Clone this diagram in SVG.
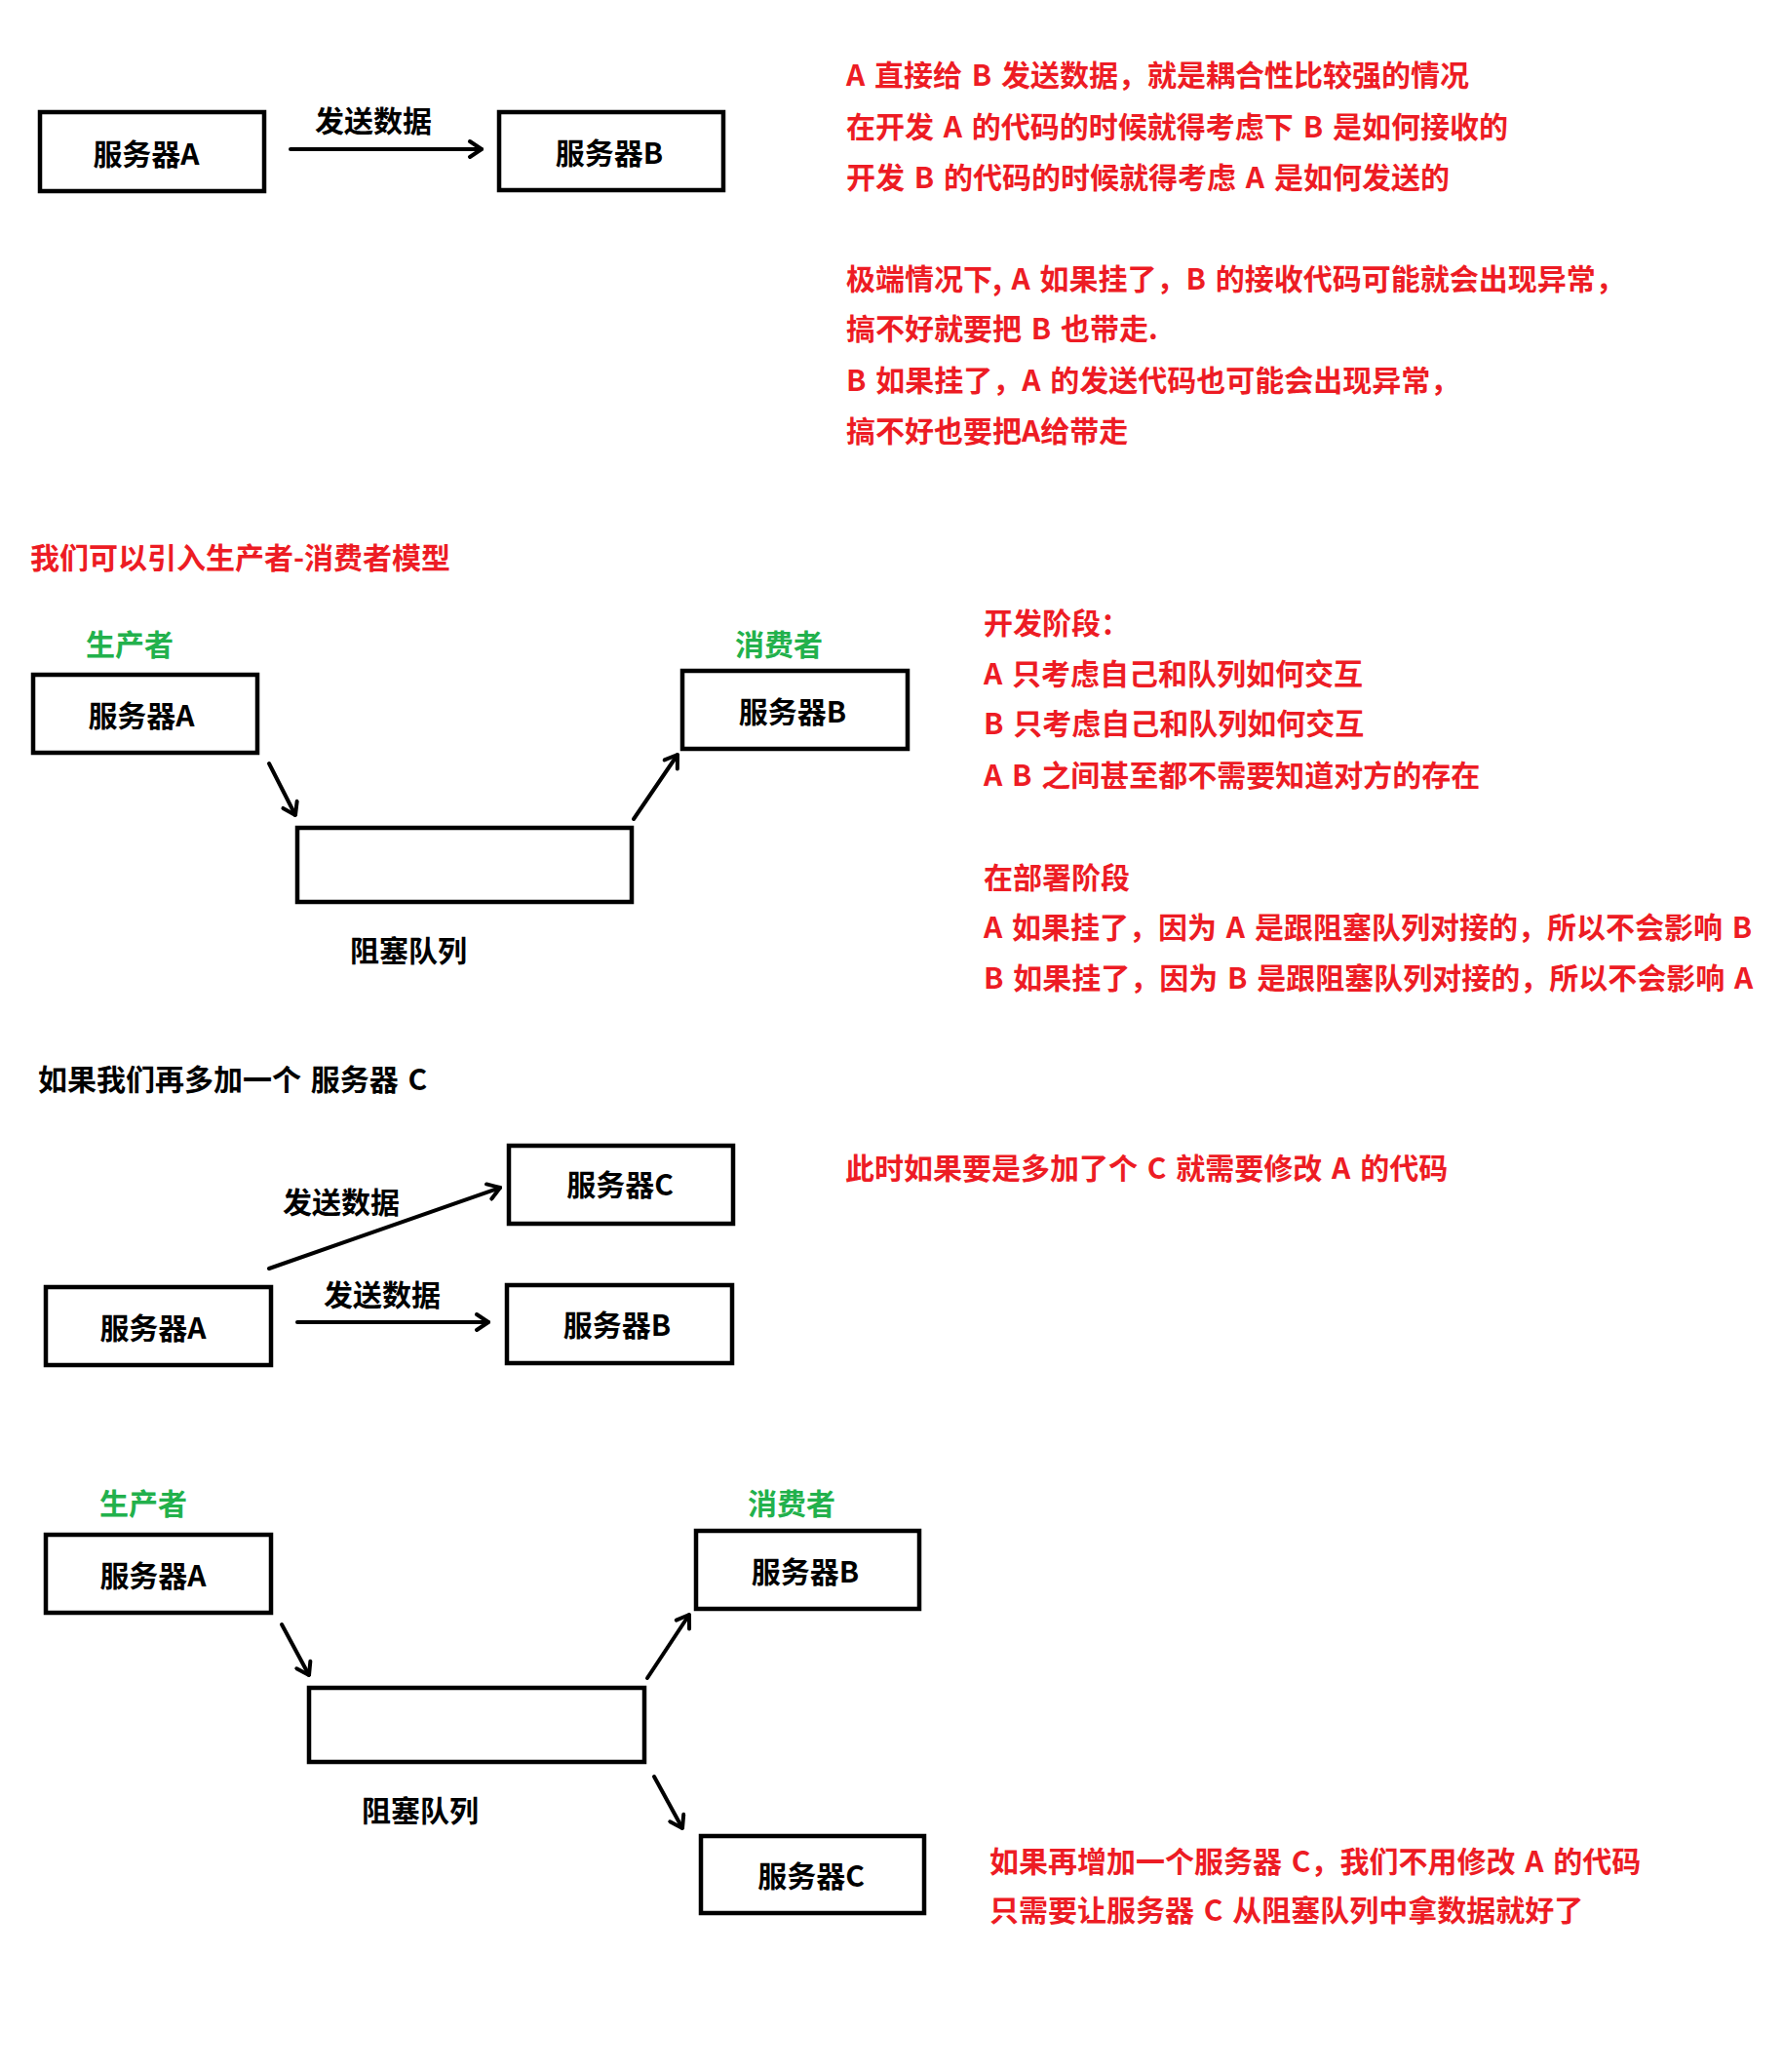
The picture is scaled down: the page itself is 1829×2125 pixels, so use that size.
<svg xmlns="http://www.w3.org/2000/svg" width="1829" height="2125" viewBox="0 0 1829 2125">
<defs>
<style>
text{font-family:"Noto Sans CJK SC","Microsoft YaHei",sans-serif;font-weight:bold;font-size:30px;word-spacing:3px}
.lbl{fill:#000;text-anchor:middle}
.red{fill:#ed1c24}
.green{fill:#22b14c;text-anchor:middle}
.blk{fill:#000}
.box{fill:#fff;stroke:#000;stroke-width:4.5}
.conn{stroke:#000;stroke-width:4;fill:none;stroke-linecap:round}
</style>
<marker id="ah" viewBox="0 0 20 20" refX="18" refY="10" markerWidth="20" markerHeight="20" markerUnits="userSpaceOnUse" orient="auto">
<path d="M6,2 L18,10 L6,18" fill="none" stroke="#000" stroke-width="4" stroke-linecap="round" stroke-linejoin="round"/>
</marker>
</defs>
<rect width="1829" height="2125" fill="#fff"/>

<!-- Section 1 -->
<g id="s1-a"><rect class="box" x="41" y="115" width="230" height="81"/><text class="lbl" x="150" y="169">服务器A</text></g>
<g id="s1-b"><rect class="box" x="512" y="115" width="230" height="80"/><text class="lbl" x="625" y="168">服务器B</text></g>
<g id="s1-conn">
<line class="conn" x1="298" y1="153" x2="494" y2="153" marker-end="url(#ah)"/>
<text class="lbl" x="383" y="135">发送数据</text>
</g>
<g id="s1-notes" class="red">
<text class="red" x="868" y="88">A 直接给 B 发送数据，就是耦合性比较强的情况</text>
<text class="red" x="868" y="141">在开发 A 的代码的时候就得考虑下 B 是如何接收的</text>
<text class="red" x="868" y="193">开发 B 的代码的时候就得考虑 A 是如何发送的</text>
<text class="red" x="868" y="297">极端情况下, A 如果挂了，B 的接收代码可能就会出现异常，</text>
<text class="red" x="868" y="348">搞不好就要把 B 也带走.</text>
<text class="red" x="868" y="401">B 如果挂了，A 的发送代码也可能会出现异常，</text>
<text class="red" x="868" y="453">搞不好也要把A给带走</text>
</g>

<!-- Section 2 -->
<text class="red" x="31" y="583">我们可以引入生产者-消费者模型</text>
<text class="green" x="133" y="672">生产者</text>
<text class="green" x="799" y="672">消费者</text>
<g id="s2-a"><rect class="box" x="34" y="692" width="230" height="80"/><text class="lbl" x="145" y="745">服务器A</text></g>
<g id="s2-q"><rect class="box" x="305" y="849" width="343" height="76"/><text class="lbl" x="419" y="986">阻塞队列</text></g>
<g id="s2-b"><rect class="box" x="700" y="688" width="231" height="80"/><text class="lbl" x="813" y="741">服务器B</text></g>
<g id="s2-conn">
<line class="conn" x1="276" y1="783" x2="303" y2="836" marker-end="url(#ah)"/>
<line class="conn" x1="650" y1="840" x2="695" y2="774" marker-end="url(#ah)"/>
</g>
<g id="s2-notes">
<text class="red" x="1009" y="650">开发阶段：</text>
<text class="red" x="1009" y="702">A 只考虑自己和队列如何交互</text>
<text class="red" x="1009" y="753">B 只考虑自己和队列如何交互</text>
<text class="red" x="1009" y="806">A B 之间甚至都不需要知道对方的存在</text>
<text class="red" x="1009" y="911">在部署阶段</text>
<text class="red" x="1009" y="962">A 如果挂了，因为 A 是跟阻塞队列对接的，所以不会影响 B</text>
<text class="red" x="1009" y="1014">B 如果挂了，因为 B 是跟阻塞队列对接的，所以不会影响 A</text>
</g>

<!-- Section 3 -->
<text class="blk" x="39" y="1118">如果我们再多加一个 服务器 C</text>
<g id="s3-c"><rect class="box" x="522" y="1175" width="230" height="80"/><text class="lbl" x="636" y="1226">服务器C</text></g>
<g id="s3-a"><rect class="box" x="47" y="1320" width="231" height="80"/><text class="lbl" x="157" y="1373">服务器A</text></g>
<g id="s3-b"><rect class="box" x="520" y="1318" width="231" height="80"/><text class="lbl" x="633" y="1370">服务器B</text></g>
<g id="s3-conn">
<line class="conn" x1="276" y1="1301" x2="513" y2="1218" marker-end="url(#ah)"/>
<text class="lbl" x="350" y="1244">发送数据</text>
<line class="conn" x1="305" y1="1356" x2="501" y2="1356" marker-end="url(#ah)"/>
<text class="lbl" x="392" y="1339">发送数据</text>
</g>
<text class="red" x="867" y="1209">此时如果要是多加了个 C 就需要修改 A 的代码</text>

<!-- Section 4 -->
<text class="green" x="147" y="1553">生产者</text>
<text class="green" x="812" y="1553">消费者</text>
<g id="s4-a"><rect class="box" x="47" y="1574" width="231" height="80"/><text class="lbl" x="157" y="1627">服务器A</text></g>
<g id="s4-q"><rect class="box" x="317" y="1731" width="344" height="76"/><text class="lbl" x="431" y="1868">阻塞队列</text></g>
<g id="s4-b"><rect class="box" x="714" y="1570" width="229" height="80"/><text class="lbl" x="826" y="1623">服务器B</text></g>
<g id="s4-c"><rect class="box" x="719" y="1883" width="229" height="79"/><text class="lbl" x="832" y="1935">服务器C</text></g>
<g id="s4-conn">
<line class="conn" x1="289" y1="1666" x2="317" y2="1718" marker-end="url(#ah)"/>
<line class="conn" x1="664" y1="1721" x2="707" y2="1656" marker-end="url(#ah)"/>
<line class="conn" x1="671" y1="1822" x2="700" y2="1875" marker-end="url(#ah)"/>
</g>
<g id="s4-notes">
<text class="red" x="1015" y="1920">如果再增加一个服务器 C，我们不用修改 A 的代码</text>
<text class="red" x="1015" y="1970">只需要让服务器 C 从阻塞队列中拿数据就好了</text>
</g>
</svg>
